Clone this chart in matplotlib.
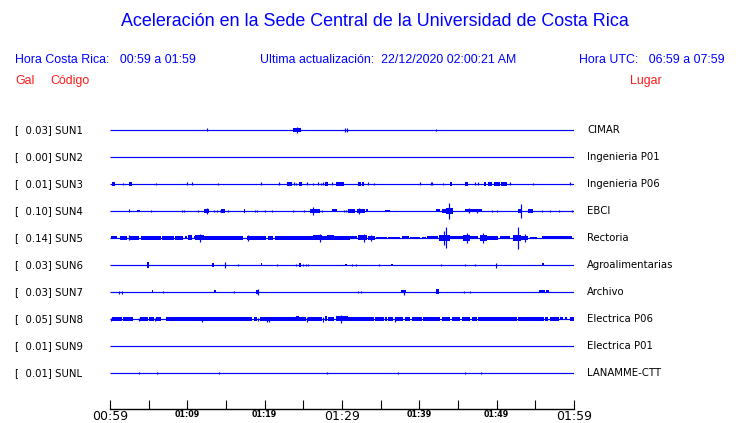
import matplotlib
matplotlib.use("Agg")
import matplotlib.pyplot as plt

# ---------------- data ----------------
title = "Aceleración en la Sede Central de la Universidad de Costa Rica"
hora_cr = "Hora Costa Rica:   00:59 a 01:59"
ultima = "Ultima actualización:  22/12/2020 02:00:21 AM"
hora_utc = "Hora UTC:   06:59 a 07:59"

codes = ["SUN1", "SUN2", "SUN3", "SUN4", "SUN5", "SUN6", "SUN7", "SUN8", "SUN9", "SUNL"]
gals = [0.03, 0.00, 0.01, 0.10, 0.14, 0.03, 0.03, 0.05, 0.01, 0.01]
places = ["CIMAR", "Ingenieria P01", "Ingenieria P06", "EBCI", "Rectoria",
          "Agroalimentarias", "Archivo", "Electrica P06", "Electrica P01", "LANAMME-CTT"]

tick_minutes = [0, 5, 10, 15, 20, 25, 30, 35, 40, 45, 50, 55, 60]
tick_labels = ["00:59", "", "01:09", "", "01:19", "", "01:29", "", "01:39", "", "01:49", "", "01:59"]
major_labels = ["00:59", "01:29", "01:59"]

# events per trace: (start minute, end minute, half-amplitude)
sun1_events = [(12.6, 12.6, 1.5), (23.7, 24.7, 1.8), (24.2, 24.2, 3), (30.4, 30.4, 2),
               (30.7, 30.7, 2), (42.2, 42.2, 1.2)]
sun2_events = []
sun3_events = [(0.3, 0.6, 2), (1.7, 1.7, 1.2), (2.5, 2.8, 2), (5.9, 5.9, 1.2), (10.0, 10.0, 1.5),
               (10.6, 10.6, 1.5), (14.0, 14.0, 1.2), (19.5, 19.5, 1.5), (21.8, 21.8, 1.5),
               (22.9, 23.5, 2), (23.8, 23.8, 1.5), (24.1, 24.1, 1.2), (24.4, 24.8, 2),
               (25.5, 25.5, 1.5), (26.2, 26.2, 1), (26.9, 26.9, 1.5), (27.3, 27.3, 1.2),
               (27.6, 27.6, 1.5), (27.8, 28.2, 2), (28.7, 28.7, 1.5), (29.2, 29.7, 2),
               (29.8, 30.3, 2), (32.1, 32.4, 2), (32.6, 32.9, 2), (33.3, 33.3, 1.5),
               (34.1, 34.1, 1), (40.1, 40.1, 1.5), (41.5, 41.5, 1.5), (41.7, 41.7, 1.5),
               (43.0, 43.0, 1), (44.0, 44.2, 2), (45.9, 46.3, 2), (47.2, 47.2, 1.5),
               (47.6, 47.6, 1.5), (48.3, 48.6, 2), (48.9, 49.4, 2), (49.6, 50.4, 2),
               (50.6, 51.4, 2), (51.7, 51.7, 1.5), (54.7, 54.7, 1), (59.5, 59.5, 1.5)]
sun4_events = [(2.5, 2.5, 1.5), (3.5, 3.9, 1.4), (5.3, 5.3, 1.3), (9.3, 9.3, 1.3), (9.6, 9.6, 1.3),
               (11.4, 11.4, 1.3), (12.1, 12.8, 1.7), (12.5, 12.5, 3), (13.5, 13.5, 1.3),
               (13.9, 13.9, 1.3), (14.2, 14.2, 1.3), (14.4, 14.9, 1.6), (15.2, 15.2, 1.3),
               (17.3, 17.5, 1.6), (18.7, 18.7, 1.3), (19.0, 19.0, 1.3), (20.0, 20.0, 1.3),
               (21.0, 21.0, 1.3), (23.6, 23.6, 1.3), (25.1, 25.1, 1.3), (25.9, 27.2, 2),
               (26.3, 26.3, 3.7), (27.4, 27.4, 1.3), (28.7, 29.4, 1.5), (30.2, 30.2, 1.3),
               (30.5, 30.5, 1.3), (30.8, 31.7, 2.2), (31.9, 33.0, 1.7), (32.2, 32.2, 2.6),
               (33.1, 33.4, 1.5), (35.6, 36.2, 1.3), (42.2, 42.7, 1.5), (42.9, 43.5, 2),
               (43.5, 44.3, 2.8), (43.8, 43.8, 8), (45.9, 48.1, 1.5), (46.4, 46.4, 2.5),
               (47.4, 47.4, 2.3), (49.4, 49.4, 1.3), (50.0, 50.0, 1.3), (52.8, 53.3, 2),
               (53.1, 53.1, 7), (54.1, 54.7, 1.6), (55.8, 55.8, 1.3), (56.9, 56.9, 1.3),
               (58.0, 58.0, 1.3), (59.7, 59.7, 1.3)]
sun5_events = [(0.1, 0.9, 1.5), (1.3, 2.2, 1.7), (2.4, 3.8, 1.7), (2.5, 2.5, 2.5), (4.0, 5.0, 1.7),
               (5.1, 6.6, 1.7), (6.7, 8.3, 1.7), (8.4, 9.5, 1.7), (9.7, 10.0, 1.5),
               (10.1, 10.6, 2.5), (10.8, 11.0, 1.5), (11.0, 12.1, 2.5), (11.6, 11.6, 4.2),
               (12.1, 17.2, 1.7), (17.7, 20.2, 1.7), (17.8, 17.8, 3), (20.4, 21.1, 2),
               (21.3, 26.3, 1.7), (26.3, 27.4, 2.5), (27.1, 27.1, 4), (27.4, 31.0, 1.8),
               (28.0, 29.0, 2.5), (31.0, 31.9, 1.5), (32.1, 33.2, 2.5), (32.8, 32.8, 4),
               (33.4, 34.3, 2), (33.7, 33.7, 3), (34.4, 35.8, 1.3), (35.9, 37.5, 1.3),
               (37.7, 38.6, 1.5), (38.8, 40.1, 1.3), (40.3, 40.9, 1.3), (41.0, 42.4, 1.5),
               (42.6, 44.0, 3), (43.5, 43.5, 10.5), (43.2, 43.2, 7), (44.0, 45.7, 1.5),
               (45.7, 46.5, 3.3), (46.1, 46.1, 5), (46.5, 47.6, 1.5), (47.8, 48.7, 3),
               (48.2, 48.2, 5), (48.7, 50.2, 2), (50.4, 51.7, 1.5), (52.1, 53.1, 3),
               (52.7, 52.7, 11), (53.1, 54.1, 1.7), (53.6, 53.6, 4), (54.3, 55.2, 1.3),
               (55.8, 59.7, 1.5)]
sun6_events = [(4.8, 5.0, 2.6), (13.2, 13.5, 1.7), (14.9, 14.9, 2.7), (16.5, 16.5, 1.5),
               (19.5, 19.7, 1.5), (21.6, 21.6, 1), (24.1, 24.1, 1), (24.4, 24.7, 1.7),
               (24.9, 24.9, 1.5), (25.3, 25.3, 1.5), (25.6, 25.6, 1.5), (30.4, 30.6, 1.3),
               (31.3, 31.3, 1.3), (31.8, 31.8, 1), (34.8, 34.8, 1.3), (36.4, 36.6, 1.3),
               (42.8, 42.8, 1.3), (45.9, 45.9, 1.3), (47.2, 47.2, 1.3), (49.9, 49.9, 2.5),
               (55.9, 56.1, 1.5)]
sun7_events = [(1.2, 1.2, 1.5), (1.5, 1.5, 1.5), (5.4, 5.6, 1.5), (6.9, 6.9, 1),
               (13.4, 13.7, 1.5), (16.0, 16.0, 1), (18.9, 19.3, 2), (19.1, 19.1, 3),
               (32.1, 32.1, 1), (32.4, 32.4, 1), (37.6, 38.3, 1.5), (38.0, 38.0, 2.5),
               (42.2, 42.5, 2.5), (45.8, 45.8, 1), (46.5, 46.5, 1), (55.5, 56.2, 1.5),
               (56.4, 56.8, 1.5)]
sun8_events = [(0.1, 0.1, 1.5), (0.3, 1.5, 1.7), (1.7, 3.0, 1.7), (3.7, 3.7, 1.5), (3.9, 4.9, 1.7),
               (5.0, 5.7, 1.7), (5.8, 5.8, 1.5), (6.0, 6.6, 1.7), (7.2, 18.3, 1.7),
               (11.9, 11.9, 2.5), (18.6, 19.0, 1.7), (19.2, 19.2, 1.5), (19.4, 24.1, 1.7),
               (20.3, 20.3, 2.5), (20.5, 20.5, 2.5), (24.1, 24.4, 2.5), (24.4, 25.4, 1.7),
               (25.5, 25.5, 2.5), (25.6, 27.4, 1.7), (27.6, 27.6, 2.5), (27.8, 28.1, 2.5),
               (28.2, 29.0, 1.7), (29.2, 30.8, 2.5), (29.9, 29.9, 4), (30.8, 34.1, 1.7),
               (34.3, 35.4, 1.7), (35.6, 35.8, 1.7), (36.0, 36.6, 1.7), (36.8, 36.8, 2.5),
               (36.9, 37.9, 1.7), (38.2, 38.8, 1.7), (39.0, 40.3, 1.7), (40.5, 42.7, 1.7),
               (42.9, 44.0, 1.7), (44.2, 45.3, 1.7), (45.5, 46.6, 1.7), (46.8, 47.4, 1.7),
               (47.6, 52.6, 1.7), (52.7, 56.1, 1.7), (56.3, 56.7, 1.7), (56.9, 58.0, 1.7),
               (58.2, 58.6, 1.5), (58.9, 59.1, 1.5), (59.5, 60.0, 1.7)]
sun9_events = []
sunl_events = [(3.7, 3.7, 1.3), (6.1, 6.1, 1.3), (14.1, 14.1, 1.3), (28.1, 28.1, 1),
               (37.2, 37.2, 1.3), (45.9, 45.9, 1.3), (48.0, 48.0, 1.3)]

all_events = [sun1_events, sun2_events, sun3_events, sun4_events, sun5_events,
              sun6_events, sun7_events, sun8_events, sun9_events, sunl_events]

# ---------------- figure ----------------
W, H = 740, 423
fig = plt.figure(figsize=(W / 100, H / 100), dpi=100)
fig.patch.set_facecolor("white")

BLUE = (0, 0, 1)
RED = (1, 0.1, 0.1)
ROW_PX = 27.0

ax = fig.add_axes([110 / W, (H - 409) / H, (574 - 110) / W, (409 - 117) / H])
ax.set_xlim(0, 60)
ax.set_ylim((409 - 130) / ROW_PX, -13 / ROW_PX)
for s in ["top", "left", "right"]:
    ax.spines[s].set_visible(False)
ax.spines["bottom"].set_linewidth(1.0)
ax.set_yticks([])
ax.set_xticks(tick_minutes)
ax.set_xticklabels(tick_labels)
ax.tick_params(axis="x", direction="in", length=6.2, width=0.8, pad=1.0)
for lab in ax.get_xticklabels():
    if lab.get_text() in major_labels:
        lab.set_fontsize(9)
    else:
        lab.set_fontsize(5.8)
        lab.set_fontweight("bold")

for i, (events, code, gal, place) in enumerate(zip(all_events, codes, gals, places)):
    ax.hlines(i, 0, 60, color=BLUE, lw=0.85)
    for (s, e, a) in events:
        d = a / ROW_PX
        if e > s:
            ax.fill_between([s, e], [i - d, i - d], [i + d, i + d], color=BLUE,
                            lw=0, antialiased=False)
        else:
            ax.vlines(s, i - d, i + d, color=BLUE, lw=0.85)
    ypx = 130 + ROW_PX * i
    fig.text(15 / W, 1 - ypx / H, f"[  {gal:.2f}] {code}", fontsize=7.3, family="DejaVu Sans",
             ha="left", va="center", color="black")
    fig.text(587 / W, 1 - ypx / H, place, fontsize=7.3, family="DejaVu Sans",
             ha="left", va="center", color="black")

sans = "Liberation Sans"
fig.text(375 / W, 1 - 22 / H, title, fontsize=12.9, family=sans, color=BLUE, ha="center", va="center")
fig.text(15 / W, 1 - 60 / H, hora_cr, fontsize=8.9, family=sans, color=BLUE, ha="left", va="center")
fig.text(260 / W, 1 - 60 / H, ultima, fontsize=8.9, family=sans, color=BLUE, ha="left", va="center")
fig.text(725 / W, 1 - 60 / H, hora_utc, fontsize=8.9, family=sans, color=BLUE, ha="right", va="center")
fig.text(15 / W, 1 - 81 / H, "Gal", fontsize=8.9, family=sans, color=RED, ha="left", va="center")
fig.text(50 / W, 1 - 81 / H, "Código", fontsize=8.9, family=sans, color=RED, ha="left", va="center")
fig.text(662 / W, 1 - 81 / H, "Lugar", fontsize=8.9, family=sans, color=RED, ha="right", va="center")

fig.savefig("out.png", dpi=100, facecolor="white")
